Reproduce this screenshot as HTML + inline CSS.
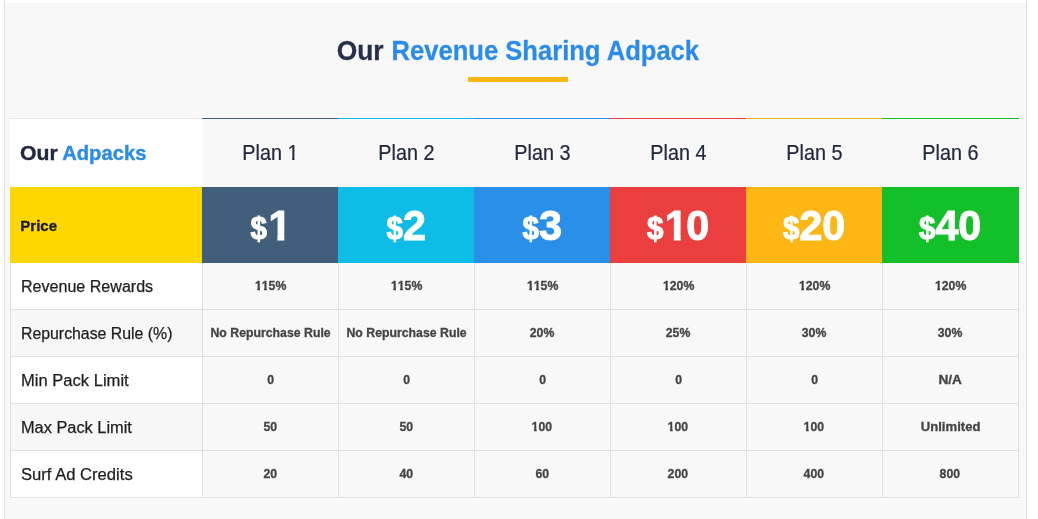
<!DOCTYPE html>
<html lang="en">
<head>
<meta charset="utf-8">
<title>Our Revenue Sharing Adpack</title>
<style>
  html, body { margin: 0; padding: 0; }
  body {
    width: 1038px; height: 519px; overflow: hidden; position: relative;
    background: #fff;
    font-family: "Liberation Sans", sans-serif;
    color: #222;
  }
  .wrap {
    position: absolute; left: 4px; top: 0; width: 1021px; height: 519px;
    border-left: 1px solid #dedede; border-right: 1px solid #dedede;
  }
  .section {
    position: absolute; left: 0; top: 3px; width: 1021px; height: 516px;
    background: #f8f8f8;
  }
  .t { display: inline-block; position: relative; white-space: nowrap; }

  /* ---------- heading ---------- */
  h2.title {
    position: absolute; left: 0; top: 33px; width: 1026px; margin: 0;
    text-align: center; white-space: nowrap;
    font-size: 26px; line-height: 30px; font-weight: bold;
    color: #272e4c;
  }
  h2.title .a { transform: scale(1.015, 1.035); transform-origin: 50% 80%; left: 2.4px; top: -0.1px; -webkit-text-stroke: 0.25px currentColor; }
  h2.title .b { transform: scale(0.984, 1.035); transform-origin: 50% 80%; color: #2b8be9; left: 0.6px; top: -0.1px; -webkit-text-stroke: 0.25px currentColor; }
  .bar {
    position: absolute; left: 463px; top: 74px; width: 100px; height: 5px;
    background: #fcb614;
  }

  /* ---------- table ---------- */
  table.plans {
    position: absolute; left: 5px; top: 115px;
    width: 1009px; border-collapse: separate; border-spacing: 0;
    table-layout: fixed;
  }
  table.plans col.c0 { width: 192px; }
  table.plans col.c { width: 136px; }
  table.plans col.cl { width: 137px; }
  table.plans th, table.plans td { padding: 0; box-sizing: border-box; margin: 0; }

  tr.head th {
    height: 69px; border-top: 1px solid #e8e8e8;
    font-size: 20px; line-height: 24px; font-weight: normal; color: #232841;
    text-align: center; vertical-align: middle;
  }
  tr.head th.head-first {
    background: #fff; text-align: left; padding-left: 10px; font-weight: bold;
  }
  tr.head th.head-first .a { transform: scale(1.06, 1.03); transform-origin: 0 80%; -webkit-text-stroke: 0.35px currentColor; top: -0.3px; }
  tr.head th.head-first .b { transform: scale(1.01, 1.03); transform-origin: 100% 80%; color: #2b8be9; -webkit-text-stroke: 0.35px currentColor; left: 1.8px; top: -0.3px; }
  tr.head th .p { transform: scale(0.99, 1.065); transform-origin: 50% 80%; left: 0.3px; top: -0.2px; -webkit-text-stroke: 0.2px currentColor; }
  tr.head th.p1 { border-top-color: #415e7b; background: linear-gradient(to right, #fff 1px, rgba(255,255,255,0) 1px); }
  tr.head th.p2 { border-top-color: #0dbde8; }
  tr.head th.p3 { border-top-color: #2a8fe9; }
  tr.head th.p4 { border-top-color: #eb3f3f; }
  tr.head th.p5 { border-top-color: #fdb714; }
  tr.head th.p6 { border-top-color: #14c02a; }

  tr.price td {
    height: 76px; text-align: center; vertical-align: top;
    color: #fff; font-weight: bold; font-size: 42.5px; line-height: 50px;
    padding-top: 14px;
  }
  tr.price td.label {
    background: #ffd700; color: #1c1e2c; font-size: 15px; line-height: 20px; text-align: left;
    padding-left: 10px; padding-top: 29px;
  }
  tr.price td.label .t { transform: scale(1.0, 1.01); transform-origin: 0 80%; -webkit-text-stroke: 0.35px currentColor; left: 0.3px; top: -0.5px; }
  tr.price td .amt { transform: scale(0.97, 1); transform-origin: 50% 80%; -webkit-text-stroke: 1px #fff; }
  tr.price td .cur { font-size: 30.5px; position: relative; top: -1.3px; }
  .one { display: inline-block; line-height: 1; }
  tr.price td .one { clip-path: polygon(0 0, 100% 0, 100% 68.5%, 69.2% 68.5%, 69.2% 100%, 39.4% 100%, 39.4% 68.5%, 0 68.5%); position: relative; left: 1.4px; }
  tr.head th .one { clip-path: polygon(0 0, 100% 0, 100% 73%, 64% 73%, 64% 100%, 43% 100%, 43% 73%, 0 73%); }
  tr.price td.p1 { background: #415e7b; }
  tr.price td.p2 { background: #0dbde8; }
  tr.price td.p3 { background: #2a8fe9; }
  tr.price td.p4 { background: #eb3f3f; }
  tr.price td.p5 { background: #fdb714; }
  tr.price td.p6 { background: #14c02a; }

  tbody.rows td {
    height: 47px; border-bottom: 1px solid #e0e0e0; border-left: 1px solid #e0e0e0;
    text-align: center; vertical-align: middle;
    font-size: 13px; line-height: 18px; font-weight: bold; color: #444;
  }
  tbody.rows td .t { transform: scale(0.945, 0.97); transform-origin: 50% 80%; -webkit-text-stroke: 0.3px currentColor; left: -0.3px; }
  tbody.rows td .t.nr { left: 0.3px; }
  tbody.rows td .one { clip-path: polygon(0 0, 100% 0, 100% 68%, 75% 68%, 75% 100%, 34% 100%, 34% 68%, 0 68%); }
  tbody.rows td .t.na { transform: scale(1.05, 0.99); }
  tbody.rows td .t.unl { transform: scale(1.01, 0.99); }
  tbody.rows td:last-child { border-right: 1px solid #e0e0e0; }
  tbody.rows td.name {
    background: #fff; text-align: left; padding-left: 10px;
    font-size: 16px; line-height: 20px; font-weight: normal; color: #222;
  }
  tbody.rows td.name .t { transform: scale(1.0, 1.0); transform-origin: 0 80%; top: 1px; left: 0; -webkit-text-stroke: 0.25px currentColor; color: #1e1e1e; }
  tbody.rows tr:nth-child(1) td.name .t { transform: scale(1.004, 1.0); }
  tbody.rows tr:nth-child(2) td.name .t { transform: scale(0.99, 1.0); }
  tbody.rows tr:nth-child(3) td.name .t { transform: scale(1.035, 1.0); }
  tbody.rows tr:nth-child(4) td.name .t { transform: scale(1.022, 1.0); }
  tbody.rows tr:nth-child(5) td.name .t { transform: scale(1.038, 1.0); left: -0.4px; }
  tbody.rows tr:nth-child(even) td.name { background: #f7f7f7; }
</style>
</head>
<body>
<div class="wrap">
  <div class="section">
    <h2 class="title"><span class="t a">Our</span> <span class="t b">Revenue Sharing Adpack</span></h2>
    <div class="bar"></div>
    <table class="plans">
      <colgroup>
        <col class="c0"><col class="c"><col class="c"><col class="c"><col class="c"><col class="c"><col class="cl">
      </colgroup>
      <thead>
        <tr class="head">
          <th class="head-first"><span class="t a">Our</span> <span class="t b">Adpacks</span></th>
          <th class="p1"><span class="t p">Plan <span class="one">1</span></span></th>
          <th class="p2"><span class="t p">Plan 2</span></th>
          <th class="p3"><span class="t p">Plan 3</span></th>
          <th class="p4"><span class="t p">Plan 4</span></th>
          <th class="p5"><span class="t p">Plan 5</span></th>
          <th class="p6"><span class="t p">Plan 6</span></th>
        </tr>
        <tr class="price">
          <td class="label"><span class="t">Price</span></td>
          <td class="p1"><span class="t amt"><span class="cur">$</span><span class="one">1</span></span></td>
          <td class="p2"><span class="t amt"><span class="cur">$</span>2</span></td>
          <td class="p3"><span class="t amt"><span class="cur">$</span>3</span></td>
          <td class="p4"><span class="t amt"><span class="cur">$</span><span class="one">1</span>0</span></td>
          <td class="p5"><span class="t amt"><span class="cur">$</span>20</span></td>
          <td class="p6"><span class="t amt"><span class="cur">$</span>40</span></td>
        </tr>
      </thead>
      <tbody class="rows">
        <tr>
          <td class="name"><span class="t">Revenue Rewards</span></td>
          <td><span class="t"><span class="one">1</span><span class="one">1</span>5%</span></td>
          <td><span class="t"><span class="one">1</span><span class="one">1</span>5%</span></td>
          <td><span class="t"><span class="one">1</span><span class="one">1</span>5%</span></td>
          <td><span class="t"><span class="one">1</span>20%</span></td>
          <td><span class="t"><span class="one">1</span>20%</span></td>
          <td><span class="t"><span class="one">1</span>20%</span></td>
        </tr>
        <tr>
          <td class="name"><span class="t">Repurchase Rule (%)</span></td>
          <td><span class="t nr">No Repurchase Rule</span></td>
          <td><span class="t nr">No Repurchase Rule</span></td>
          <td><span class="t">20%</span></td>
          <td><span class="t">25%</span></td>
          <td><span class="t">30%</span></td>
          <td><span class="t">30%</span></td>
        </tr>
        <tr>
          <td class="name"><span class="t">Min Pack Limit</span></td>
          <td><span class="t">0</span></td>
          <td><span class="t">0</span></td>
          <td><span class="t">0</span></td>
          <td><span class="t">0</span></td>
          <td><span class="t">0</span></td>
          <td><span class="t na">N/A</span></td>
        </tr>
        <tr>
          <td class="name"><span class="t">Max Pack Limit</span></td>
          <td><span class="t">50</span></td>
          <td><span class="t">50</span></td>
          <td><span class="t"><span class="one">1</span>00</span></td>
          <td><span class="t"><span class="one">1</span>00</span></td>
          <td><span class="t"><span class="one">1</span>00</span></td>
          <td><span class="t unl">Unlimited</span></td>
        </tr>
        <tr>
          <td class="name"><span class="t">Surf Ad Credits</span></td>
          <td><span class="t">20</span></td>
          <td><span class="t">40</span></td>
          <td><span class="t">60</span></td>
          <td><span class="t">200</span></td>
          <td><span class="t">400</span></td>
          <td><span class="t">800</span></td>
        </tr>
      </tbody>
    </table>
  </div>
</div>
</body>
</html>
